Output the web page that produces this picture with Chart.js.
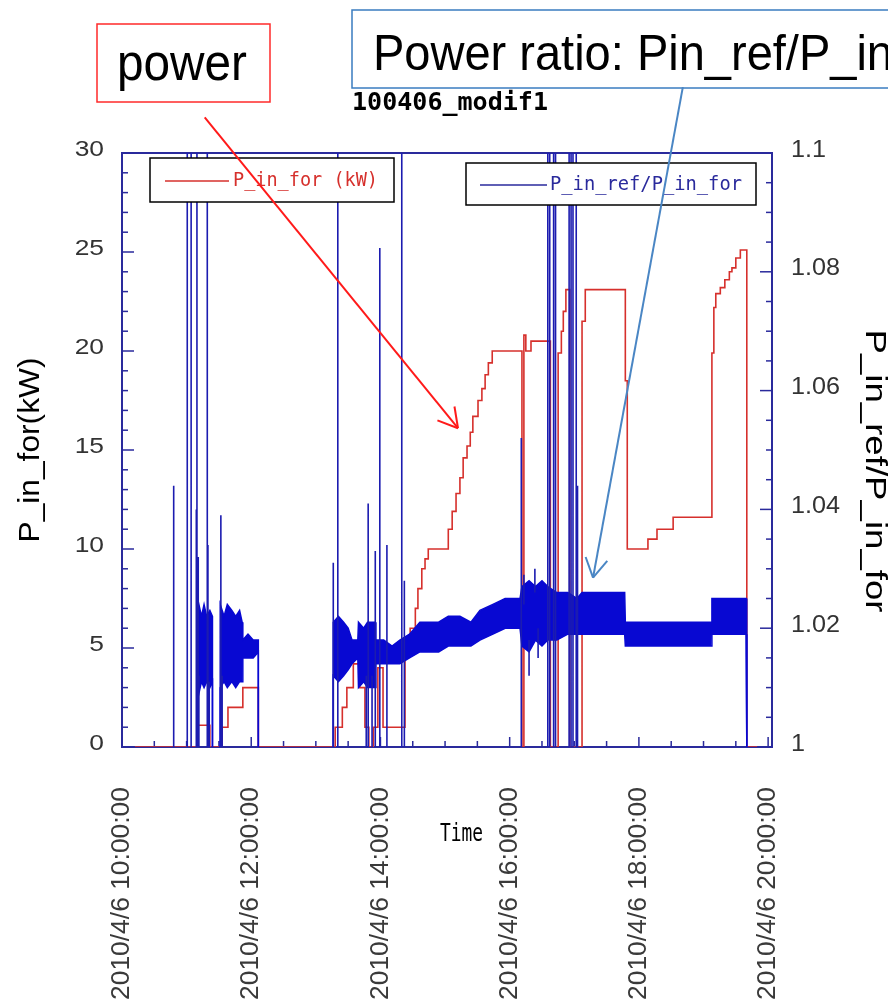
<!DOCTYPE html>
<html>
<head>
<meta charset="utf-8">
<script src="https://cdn.jsdelivr.net/npm/chart.js@4.4.0/dist/chart.umd.min.js"></script>
<style>
  html, body { margin: 0; padding: 0; background: #fff; }
  #wrap { width: 888px; height: 1005px; }
</style>
</head>
<body>
<div id="wrap"><canvas id="chart" width="888" height="1005"></canvas></div>
<script>
// P_in_for (kW): step changes, time in hours of 2010/4/6
const powerTime = [10.20, 11.18, 11.36, 11.55, 11.64, 11.87, 12.11, 13.30, 13.41, 13.48, 13.58, 13.68, 13.76, 13.82, 13.89, 13.96, 14.04,
  14.38, 14.46, 14.54, 14.58, 14.64, 14.69, 14.74, 15.05, 15.11, 15.17, 15.23, 15.28, 15.34, 15.39, 15.43, 15.51, 15.57, 15.62, 15.67, 15.73,
  16.19, 16.22, 16.25, 16.33, 16.63, 16.75, 16.80, 16.83, 16.87, 16.93, 17.12, 17.17, 17.79, 17.82, 18.14, 18.28, 18.53,
  19.13, 19.16, 19.19, 19.26, 19.33, 19.40, 19.44, 19.50, 19.57, 19.67, 19.83];
const powerKW = [0, 1.1, 0, 1.0, 2.0, 3.0, 0, 1.0, 2.0, 3.0, 4.2, 3.0, 1.0, 0, 1.0, 4.0, 1.0,
  5.2, 6.0, 7.0, 8.0, 9.0, 9.5, 10.0, 11.0, 11.9, 12.8, 13.6, 14.6, 15.2, 15.9, 16.7, 17.5, 18.1, 18.8, 19.4, 20.0,
  0, 20.8, 20.0, 20.5, 0, 19.9, 21.0, 22.0, 23.1, 0, 21.5, 23.1, 18.5, 10.0, 10.5, 11.0, 11.6,
  19.9, 22.2, 22.9, 23.2, 23.6, 24.0, 24.2, 24.7, 25.1, 0, 0];

// P_in_ref/P_in_for: upper and lower edge of the noisy band
const ratioTime = [10.00, 11.16, 11.16, 11.19, 11.23, 11.27, 11.31, 11.36, 11.40, 11.40, 11.52, 11.52, 11.58, 11.63, 11.70, 11.76, 11.82, 11.86,
  11.87, 11.95, 12.03, 12.11, 12.11, 13.27, 13.27, 13.35, 13.43, 13.50, 13.56, 13.65, 13.66, 13.74, 13.80, 13.92, 13.93, 14.05, 14.18, 14.30,
  14.45, 14.61, 14.75, 14.90, 15.05, 15.23, 15.40, 15.54, 15.74, 15.93, 16.16, 16.19, 16.30, 16.40, 16.50, 16.59, 16.73, 16.90, 17.04, 17.12,
  17.40, 17.78, 17.79, 18.17, 18.64, 19.12, 19.13, 19.40, 19.66, 19.67, 19.85];
const ratioHigh = [1.000, 1.000, 1.022, 1.024, 1.022, 1.024, 1.022, 1.023, 1.022, 1.000, 1.000, 1.024, 1.022, 1.024, 1.023, 1.022, 1.023, 1.021,
  1.018, 1.019, 1.018, 1.018, 1.000, 1.000, 1.021, 1.022, 1.021, 1.020, 1.018, 1.018, 1.021, 1.020, 1.021, 1.021, 1.018, 1.018, 1.017, 1.018,
  1.019, 1.021, 1.021, 1.021, 1.022, 1.022, 1.021, 1.023, 1.024, 1.025, 1.025, 1.027, 1.028, 1.027, 1.028, 1.027, 1.026, 1.026, 1.025, 1.026,
  1.026, 1.026, 1.021, 1.021, 1.021, 1.021, 1.025, 1.025, 1.025, 1.000, 1.000];
const ratioLow = [1.000, 1.000, 1.011, 1.009, 1.011, 1.010, 1.011, 1.010, 1.011, 1.000, 1.000, 1.010, 1.011, 1.010, 1.011, 1.010, 1.011, 1.011,
  1.015, 1.015, 1.015, 1.016, 1.000, 1.000, 1.012, 1.011, 1.012, 1.013, 1.014, 1.015, 1.010, 1.011, 1.010, 1.010, 1.014, 1.014, 1.014, 1.014,
  1.015, 1.016, 1.016, 1.016, 1.017, 1.017, 1.017, 1.018, 1.019, 1.020, 1.020, 1.017, 1.016, 1.018, 1.017, 1.018, 1.018, 1.019, 1.019, 1.019,
  1.019, 1.019, 1.017, 1.017, 1.017, 1.017, 1.019, 1.019, 1.019, 1.000, 1.000];

// P_in_ref/P_in_for: isolated vertical spikes (low end, high end)
const spikeTime = [10.80, 11.01, 11.07, 11.15, 11.16, 11.18, 11.19, 11.32, 11.33, 11.35, 11.53, 11.55, 13.27, 13.34, 13.78, 13.81, 13.87,
  13.92, 13.99, 14.10, 14.33, 14.37, 16.18, 16.22, 16.30, 16.39, 16.44, 16.59, 16.62, 16.68, 16.71, 16.92, 16.95, 16.98, 17.03, 17.05];
const spikeLow = [1.000, 1.000, 1.000, 1.000, 1.000, 1.000, 1.000, 1.000, 1.000, 1.000, 1.000, 1.000, 1.000, 1.000, 1.000, 1.000, 1.000,
  1.000, 1.000, 1.000, 1.000, 1.000, 1.000, 1.024, 1.012, 1.026, 1.015, 1.000, 1.000, 1.000, 1.000, 1.000, 1.000, 1.000, 1.000, 1.000];
const spikeHigh = [1.044, 1.100, 1.100, 1.040, 1.100, 1.032, 1.012, 1.100, 1.034, 1.011, 1.039, 1.012, 1.031, 1.100, 1.012, 1.041, 1.012,
  1.033, 1.084, 1.034, 1.100, 1.028, 1.052, 1.029, 1.018, 1.030, 1.020, 1.100, 1.100, 1.100, 1.100, 1.100, 1.100, 1.100, 1.100, 1.044];

const xTickHours = [10, 12, 14, 16, 18, 20];
const leftTicks = [0, 5, 10, 15, 20, 25, 30];
const rightTicks = [1, 1.02, 1.04, 1.06, 1.08, 1.1];

// call-out arrows, in data units (hours, kW / ratio)
const redArrow = { from: [11.28, 31.8], to: [15.20, 16.1] };
const blueArrow = { from: [18.68, 1.1111], to: [17.29, 1.0285] };

const AXIS = '#2a2a9c';
const BLUE = '#0808d2';
const RED = '#d6302c';
const SANS = '"Liberation Sans", Arial, sans-serif';
const MONO = '"DejaVu Sans Mono", monospace';

function drawText(ctx, str, x, y, o) {
    ctx.save();
    ctx.translate(x, y);
    if (o.rotate) ctx.rotate(o.rotate);
    ctx.font = o.font;
    ctx.fillStyle = o.color || '#000';
    ctx.textBaseline = o.baseline || 'alphabetic';
    ctx.textAlign = o.align || 'left';
    const w = ctx.measureText(str).width;
    const sx = o.width ? o.width / w : (o.sx || 1);
    ctx.scale(sx, 1);
    ctx.fillText(str, 0, 0);
    ctx.restore();
}

function line(ctx, x1, y1, x2, y2) {
    ctx.beginPath();
    ctx.moveTo(x1, y1);
    ctx.lineTo(x2, y2);
    ctx.stroke();
}

function arrow(ctx, x1, y1, x2, y2, color) {
    ctx.save();
    ctx.strokeStyle = color;
    ctx.lineWidth = 2;
    line(ctx, x1, y1, x2, y2);
    const a = Math.atan2(y2 - y1, x2 - x1) + Math.PI;
    const len = 22;
    [-Math.PI / 6, Math.PI / 6].forEach(d => {
        line(ctx, x2, y2, x2 + len * Math.cos(a + d), y2 + len * Math.sin(a + d));
    });
    ctx.restore();
}

// no ratio is plotted while it sits on the floor (power off)
const hideFloor = c => (c.p0.parsed.y === 1 && c.p1.parsed.y === 1) ? 'rgba(0,0,0,0)' : undefined;

const decor = {
    id: 'decor',
    // frame and inward ticks go under the data
    beforeDatasetsDraw(chart) {
        const ctx = chart.ctx;
        const ca = chart.chartArea;
        const sx = chart.scales.x, sy = chart.scales.y, sr = chart.scales.y1;
        ctx.save();
        ctx.strokeStyle = AXIS;
        ctx.lineWidth = 2;
        ctx.strokeRect(ca.left, ca.top, ca.right - ca.left, ca.bottom - ca.top);
        ctx.lineWidth = 1.5;
        for (let k = 0; k <= 30; k++) {
            const py = sy.getPixelForValue(k);
            line(ctx, ca.left, py, ca.left + (k % 5 === 0 ? 12 : 6), py);
        }
        for (let k = 0; k <= 20; k++) {
            const py = sr.getPixelForValue(1 + k * 0.005);
            line(ctx, ca.right, py, ca.right - (k % 4 === 0 ? 12 : 6), py);
        }
        for (let k = 0; k <= 20; k++) {
            const px = sx.getPixelForValue(10 + k * 0.5);
            line(ctx, px, ca.bottom, px, ca.bottom - (k % 4 === 0 ? 10 : 6));
        }
        ctx.restore();
    },
    afterDraw(chart) {
        const ctx = chart.ctx;
        const sx = chart.scales.x, sy = chart.scales.y, sr = chart.scales.y1;

        // tick labels
        leftTicks.forEach(v => {
            drawText(ctx, String(v), 104, sy.getPixelForValue(v) - 3,
                { font: `22px ${SANS}`, color: '#333', align: 'right', baseline: 'middle', sx: 1.2 });
        });
        rightTicks.forEach(v => {
            drawText(ctx, String(parseFloat(v.toFixed(2))), 791, sr.getPixelForValue(v) - 3,
                { font: `24px ${SANS}`, color: '#333', align: 'left', baseline: 'middle', sx: 1.05 });
        });
        xTickHours.forEach(h => {
            const label = `2010/4/6 ${String(h).padStart(2, '0')}:00:00`;
            drawText(ctx, label, sx.getPixelForValue(h), 787,
                { font: `26px ${SANS}`, color: '#3a3a3a', align: 'right', baseline: 'middle', rotate: -Math.PI / 2, width: 213 });
        });

        // axis titles and chart title
        drawText(ctx, 'P_in_for(kW)', 31, 450,
            { font: `29px ${SANS}`, align: 'center', baseline: 'middle', rotate: -Math.PI / 2, width: 185 });
        drawText(ctx, 'P_in_ref/P_in_for', 874, 471,
            { font: `29px ${SANS}`, align: 'center', baseline: 'middle', rotate: Math.PI / 2, width: 283 });
        drawText(ctx, '100406_modif1', 352, 110, { font: `bold 25px ${MONO}`, width: 196 });
        drawText(ctx, 'Time', 440, 841, { font: `24px ${MONO}`, width: 43 });

        // legend boxes
        ctx.save();
        ctx.lineWidth = 1.5;
        ctx.strokeStyle = '#000';
        ctx.fillStyle = '#fff';
        ctx.fillRect(150, 158, 244, 44);
        ctx.strokeRect(150, 158, 244, 44);
        ctx.fillRect(466, 163, 290, 42);
        ctx.strokeRect(466, 163, 290, 42);
        ctx.strokeStyle = RED;
        line(ctx, 165, 181, 229, 181);
        ctx.strokeStyle = AXIS;
        line(ctx, 480, 185, 547, 185);
        ctx.restore();
        drawText(ctx, chart.data.datasets[3].label, 233, 181,
            { font: `20px ${MONO}`, color: RED, baseline: 'middle', width: 145 });
        drawText(ctx, chart.data.datasets[0].label, 550, 185,
            { font: `20px ${MONO}`, color: AXIS, baseline: 'middle', width: 192 });

        // call-out boxes
        ctx.save();
        ctx.lineWidth = 1.5;
        ctx.strokeStyle = '#ff2a2a';
        ctx.strokeRect(97, 24, 173, 78);
        ctx.strokeStyle = '#3a7cc0';
        ctx.strokeRect(352, 10, 560, 78);
        ctx.restore();
        drawText(ctx, 'power', 117, 80, { font: `52px ${SANS}`, width: 130 });
        drawText(ctx, 'Power ratio: Pin_ref/P_in', 373, 70, { font: `50px ${SANS}`, width: 520 });

        arrow(ctx, sx.getPixelForValue(redArrow.from[0]), sy.getPixelForValue(redArrow.from[1]),
            sx.getPixelForValue(redArrow.to[0]), sy.getPixelForValue(redArrow.to[1]), '#ff1a1a');
        arrow(ctx, sx.getPixelForValue(blueArrow.from[0]), sr.getPixelForValue(blueArrow.from[1]),
            sx.getPixelForValue(blueArrow.to[0]), sr.getPixelForValue(blueArrow.to[1]), '#4a86c4');
    }
};

const spikePoints = [];
spikeTime.forEach((t, i) => {
    spikePoints.push({ x: t, y: spikeLow[i] }, { x: t, y: spikeHigh[i] }, { x: t, y: null });
});

new Chart(document.getElementById('chart'), {
    type: 'line',
    data: {
        datasets: [
            {
                label: 'P_in_ref/P_in_for',
                data: ratioTime.map((t, i) => ({ x: t, y: ratioHigh[i] })),
                yAxisID: 'y1',
                borderColor: BLUE,
                backgroundColor: BLUE,
                borderWidth: 1.5,
                fill: '+1',
                segment: { borderColor: hideFloor },
                order: 2
            },
            {
                label: 'ratio low',
                data: ratioTime.map((t, i) => ({ x: t, y: ratioLow[i] })),
                yAxisID: 'y1',
                borderColor: BLUE,
                borderWidth: 1.5,
                fill: false,
                segment: { borderColor: hideFloor },
                order: 3
            },
            {
                label: 'ratio spikes',
                data: spikePoints,
                yAxisID: 'y1',
                borderColor: '#1c1cb0',
                borderWidth: 1.6,
                spanGaps: false,
                fill: false,
                order: 1
            },
            {
                label: 'P_in_for (kW)',
                data: powerTime.map((t, i) => ({ x: t, y: powerKW[i] })),
                yAxisID: 'y',
                borderColor: RED,
                borderWidth: 1.6,
                stepped: 'before',
                fill: false,
                order: 4
            }
        ]
    },
    options: {
        responsive: false,
        animation: false,
        devicePixelRatio: 1,
        layout: { padding: { top: 153, left: 0, right: 0, bottom: 0 } },
        elements: { point: { radius: 0 }, line: { tension: 0 } },
        plugins: {
            legend: { display: false },
            tooltip: { enabled: false },
            title: { display: false }
        },
        scales: {
            x: {
                type: 'linear', min: 10, max: 20.06, offset: false,
                grid: { display: false }, border: { display: false }, ticks: { display: false },
                afterFit: s => { s.height = 258; }
            },
            y: {
                position: 'left', min: 0, max: 30,
                grid: { display: false }, border: { display: false }, ticks: { display: false },
                afterFit: s => { s.width = 122; }
            },
            y1: {
                position: 'right', min: 1, max: 1.1,
                grid: { display: false }, border: { display: false }, ticks: { display: false },
                afterFit: s => { s.width = 116; }
            }
        }
    },
    plugins: [decor]
});
</script>
</body>
</html>
